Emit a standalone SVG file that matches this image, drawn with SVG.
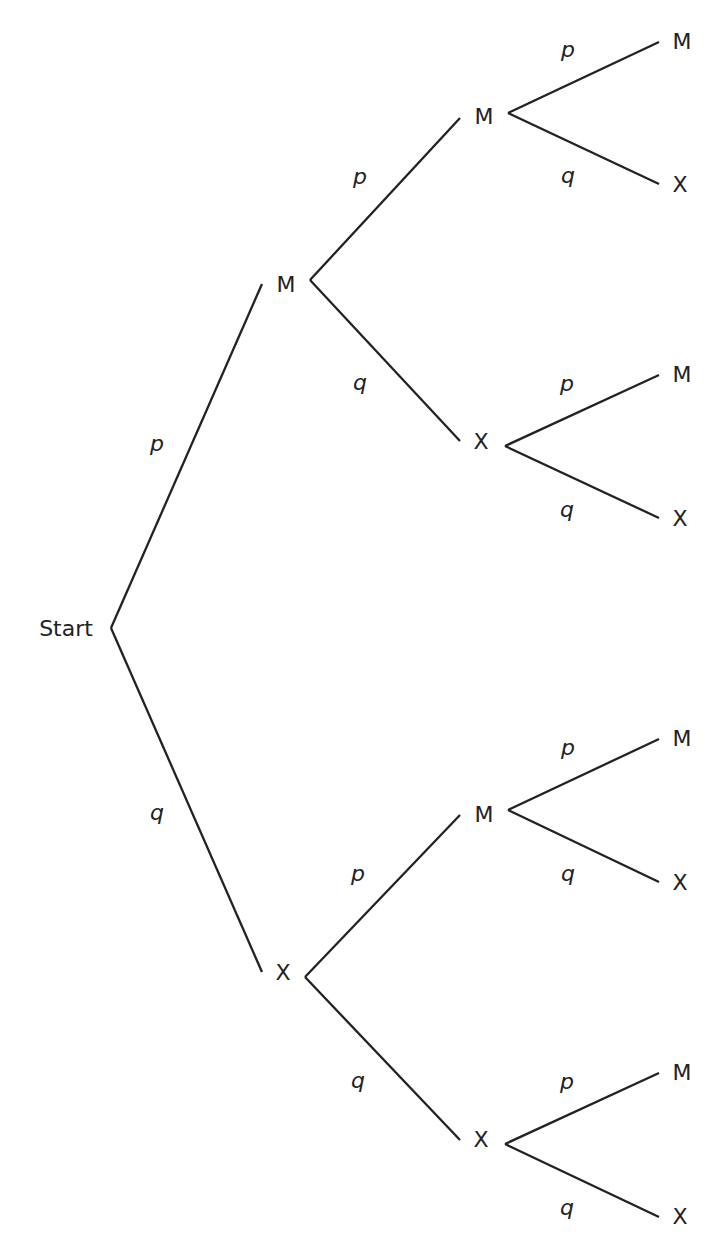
<svg xmlns="http://www.w3.org/2000/svg" width="727" height="1258" viewBox="0 0 727 1258">
<style>
text{font-family:"DejaVu Sans",sans-serif;font-size:22px;fill:#222;text-anchor:middle;dominant-baseline:central}
.l{font-style:italic}
line{stroke:#222;stroke-width:2.3}
</style>
<rect width="727" height="1258" fill="#fff"/>
<g id="connectors">
<line x1="111" y1="628" x2="262" y2="284"/><line x1="111" y1="628" x2="262" y2="972"/>
<line x1="310" y1="280" x2="460" y2="118"/><line x1="310" y1="280" x2="460" y2="441"/>
<line x1="305" y1="977" x2="460" y2="815"/><line x1="305" y1="977" x2="460" y2="1140"/>
<line x1="508" y1="113" x2="659" y2="42"/><line x1="508" y1="113" x2="659" y2="184"/>
<line x1="505" y1="446" x2="659" y2="375"/><line x1="505" y1="446" x2="659" y2="518"/>
<line x1="508" y1="810" x2="659" y2="739"/><line x1="508" y1="810" x2="659" y2="882"/>
<line x1="505" y1="1144" x2="659" y2="1073"/><line x1="505" y1="1144" x2="659" y2="1217"/>
<text class="l" x="157" y="443">p</text><text class="l" x="157" y="812">q</text>
<text class="l" x="360" y="176">p</text><text class="l" x="360" y="382">q</text>
<text class="l" x="358" y="873">p</text><text class="l" x="358" y="1080">q</text>
<text class="l" x="568" y="49">p</text><text class="l" x="568" y="175">q</text>
<text class="l" x="567" y="383">p</text><text class="l" x="567" y="509">q</text>
<text class="l" x="568" y="747">p</text><text class="l" x="568" y="873">q</text>
<text class="l" x="567" y="1081">p</text><text class="l" x="567" y="1207">q</text>
</g>
<g id="start"><text x="66" y="628">Start</text></g>
<g id="n1"><text x="286" y="284">M</text></g>
<g id="n2"><text x="283" y="972">X</text></g>
<g id="n3"><text x="484" y="116">M</text></g>
<g id="n4"><text x="481" y="441">X</text></g>
<g id="n5"><text x="484" y="814">M</text></g>
<g id="n6"><text x="481" y="1139">X</text></g>
<g id="l1"><text x="682" y="41">M</text></g>
<g id="l2"><text x="680" y="184">X</text></g>
<g id="l3"><text x="682" y="374">M</text></g>
<g id="l4"><text x="680" y="518">X</text></g>
<g id="l5"><text x="682" y="738">M</text></g>
<g id="l6"><text x="680" y="882">X</text></g>
<g id="l7"><text x="682" y="1072">M</text></g>
<g id="l8"><text x="680" y="1216">X</text></g>
</svg>
